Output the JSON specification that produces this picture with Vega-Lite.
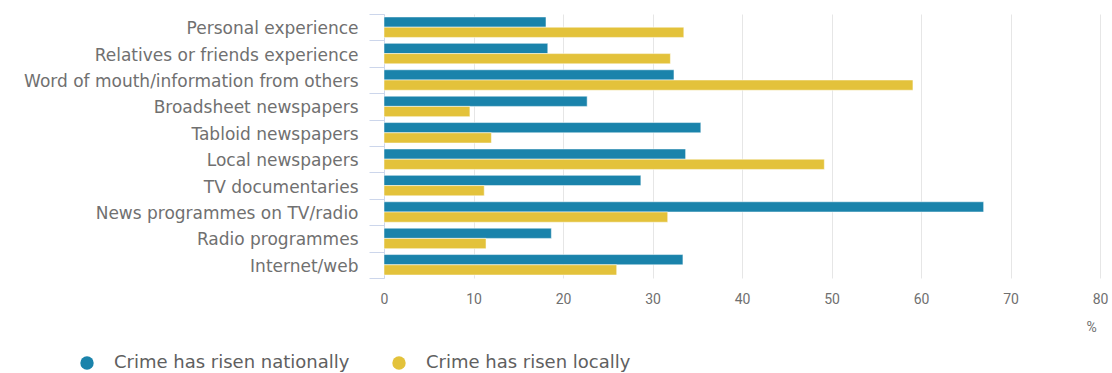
{
  "$schema": "https://vega.github.io/schema/vega-lite/v6.json",
  "width": 716,
  "height": 264,
  "autosize": {"type": "none"},
  "padding": {"left": 384, "top": 14, "right": 12, "bottom": 95},
  "config": {"view": {"stroke": null}, "font": "DejaVu Sans"},
  "data": {
    "values": [
      {"source": "Personal experience", "series": "Crime has risen nationally", "value": 18.1},
      {"source": "Personal experience", "series": "Crime has risen locally", "value": 33.5},
      {"source": "Relatives or friends experience", "series": "Crime has risen nationally", "value": 18.3},
      {"source": "Relatives or friends experience", "series": "Crime has risen locally", "value": 32.0},
      {"source": "Word of mouth/information from others", "series": "Crime has risen nationally", "value": 32.4},
      {"source": "Word of mouth/information from others", "series": "Crime has risen locally", "value": 59.1},
      {"source": "Broadsheet newspapers", "series": "Crime has risen nationally", "value": 22.7},
      {"source": "Broadsheet newspapers", "series": "Crime has risen locally", "value": 9.6},
      {"source": "Tabloid newspapers", "series": "Crime has risen nationally", "value": 35.4},
      {"source": "Tabloid newspapers", "series": "Crime has risen locally", "value": 12.0},
      {"source": "Local newspapers", "series": "Crime has risen nationally", "value": 33.7},
      {"source": "Local newspapers", "series": "Crime has risen locally", "value": 49.2},
      {"source": "TV documentaries", "series": "Crime has risen nationally", "value": 28.7},
      {"source": "TV documentaries", "series": "Crime has risen locally", "value": 11.2},
      {"source": "News programmes on TV/radio", "series": "Crime has risen nationally", "value": 67.0},
      {"source": "News programmes on TV/radio", "series": "Crime has risen locally", "value": 31.7},
      {"source": "Radio programmes", "series": "Crime has risen nationally", "value": 18.7},
      {"source": "Radio programmes", "series": "Crime has risen locally", "value": 11.4},
      {"source": "Internet/web", "series": "Crime has risen nationally", "value": 33.4},
      {"source": "Internet/web", "series": "Crime has risen locally", "value": 26.0}
    ]
  },
  "mark": {"type": "bar", "stroke": "#ffffff", "strokeWidth": 1, "strokeOpacity": 0.5},
  "encoding": {
    "y": {
      "field": "source",
      "type": "nominal",
      "sort": null,
      "scale": {"paddingInner": 0, "paddingOuter": 0},
      "axis": {
        "title": null,
        "domainColor": "#ccd6eb",
        "tickColor": "#ccd6eb",
        "tickBand": "extent",
        "tickSize": 15,
        "labelPadding": 11,
        "labelOffset": 1.5,
        "labelFontSize": 17,
        "labelColor": "#707070",
        "labelFont": "DejaVu Sans",
        "labelLimit": 400,
        "grid": false
      }
    },
    "yOffset": {
      "field": "series",
      "type": "nominal",
      "sort": ["Crime has risen nationally", "Crime has risen locally"],
      "scale": {"paddingOuter": 0.29, "paddingInner": 0}
    },
    "x": {
      "field": "value",
      "type": "quantitative",
      "scale": {"domain": [0, 80], "nice": false},
      "axis": {
        "values": [0, 10, 20, 30, 40, 50, 60, 70, 80],
        "title": "%",
        "domain": false,
        "ticks": false,
        "grid": true,
        "gridColor": "#e6e6e6",
        "labelFlush": false,
        "labelPadding": 14,
        "labelFontSize": 14,
        "labelColor": "#707070",
        "labelFont": "Liberation Sans Narrow, Roboto",
        "titleFont": "Liberation Sans Narrow, Roboto",
        "titleFontSize": 14,
        "titleFontWeight": "normal",
        "titleColor": "#707070",
        "titleAnchor": "end",
        "titleAlign": "center",
        "titleBaseline": "middle",
        "titleX": 707,
        "titleY": 49
      }
    },
    "color": {
      "field": "series",
      "type": "nominal",
      "scale": {
        "domain": ["Crime has risen nationally", "Crime has risen locally"],
        "range": ["#1a83ab", "#e3c23b"]
      },
      "legend": {
        "title": null,
        "orient": "none",
        "direction": "horizontal",
        "legendX": -306,
        "legendY": 340,
        "symbolType": "circle",
        "symbolSize": 180,
        "symbolStrokeWidth": 0,
        "symbolOpacity": 1,
        "labelFontSize": 18,
        "labelColor": "#606060",
        "labelFont": "DejaVu Sans",
        "labelOffset": 18,
        "columnPadding": 40,
        "labelLimit": 400
      }
    }
  }
}
